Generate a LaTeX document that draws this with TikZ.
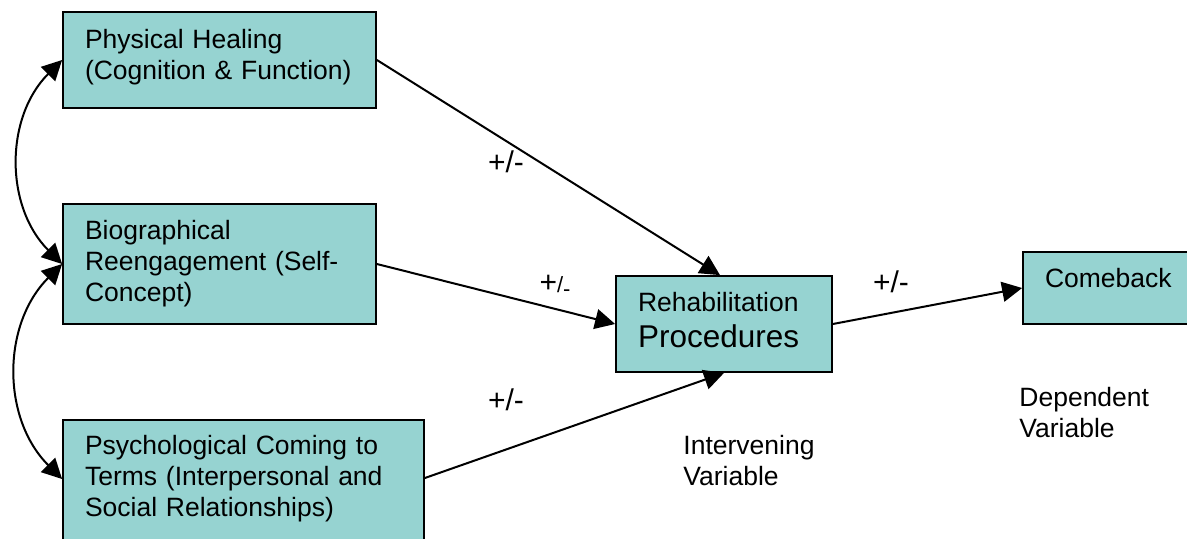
\documentclass[tikz,border=0pt]{standalone}
\usepackage{fontspec}
\setmainfont{Liberation Sans}
\usepackage{tikz}
\usetikzlibrary{arrows.meta}
\definecolor{boxteal}{RGB}{150,211,209}
\newcommand{\padbelow}[1]{\rule[-#1]{0pt}{#1}}

\begin{document}
\begin{tikzpicture}[
    x=0.5pt, y=0.5pt,
    box/.style={rectangle, draw=black, line width=0.9pt, fill=boxteal, align=left, inner xsep=11pt, inner ysep=0pt, font=\fontsize{13.25}{15.5}\selectfont},
    note/.style={align=left, inner sep=0pt, font=\fontsize{13.25}{15.5}\selectfont},
    sign/.style={inner sep=0pt, font=\fontsize{15}{18}\selectfont},
    arrow/.style={line width=1pt, ->, >={Triangle[length=10pt, width=10pt]}},
    doublearrow/.style={line width=1pt, <->, >={Triangle[length=10pt, width=10pt]}}
]
    \useasboundingbox (0,0) rectangle (1187,538);

    \node[box, text width=134.5pt, minimum height=48pt] (phys) at (219.5,478) {Physical Healing\\(Cognition \& Function)\padbelow{6pt}};
    \node[box, text width=134.5pt, minimum height=60pt] (bio) at (219.5,274) {Biographical\\Reengagement (Self-\\Concept)};
    \node[box, text width=158.5pt, minimum height=65pt] (psych) at (243.5,53) {Psychological Coming to\\Terms (Interpersonal and\\Social Relationships)\padbelow{9pt}};
    \node[box, text width=86pt, minimum height=48pt] (rehab) at (724,214) {Rehabilitation\\[2.5pt]{\fontsize{15.75}{18}\selectfont Procedures}\padbelow{3.7pt}};
    \node[box, text width=71.5pt, minimum height=36pt] (comeback) at (1116.5,250) {Comeback\padbelow{10.5pt}};

    \node[note, anchor=west] (interv) at (683,77.5) {Intervening\\Variable};
    \node[note, anchor=west] (depend) at (1019,125.5) {Dependent\\Variable};

    \draw[arrow] (phys.east) -- ([xshift=-2pt]rehab.north);
    \draw[arrow] (bio.east) -- (rehab.west);
    \draw[arrow] ([yshift=3.5pt]psych.east) -- (rehab.south);
    \draw[arrow] (rehab.east) -- (comeback.west);
    \draw[doublearrow] (phys.west) to[out=225, in=135, looseness=1.02] (bio.west);
    \draw[doublearrow] (bio.west) to[out=225, in=135, looseness=1.02] ([yshift=3pt]psych.west);

    \node[sign] (pm1) at (506,376) {+/-};
    \node[sign] (pm2) at (555,252) {+{\fontsize{11}{12}\selectfont/\raisebox{-2pt}{-}}};
    \node[sign] (pm3) at (506,138) {+/-};
    \node[sign] (pm4) at (891,256) {+/-};

\end{tikzpicture}
\end{document}
